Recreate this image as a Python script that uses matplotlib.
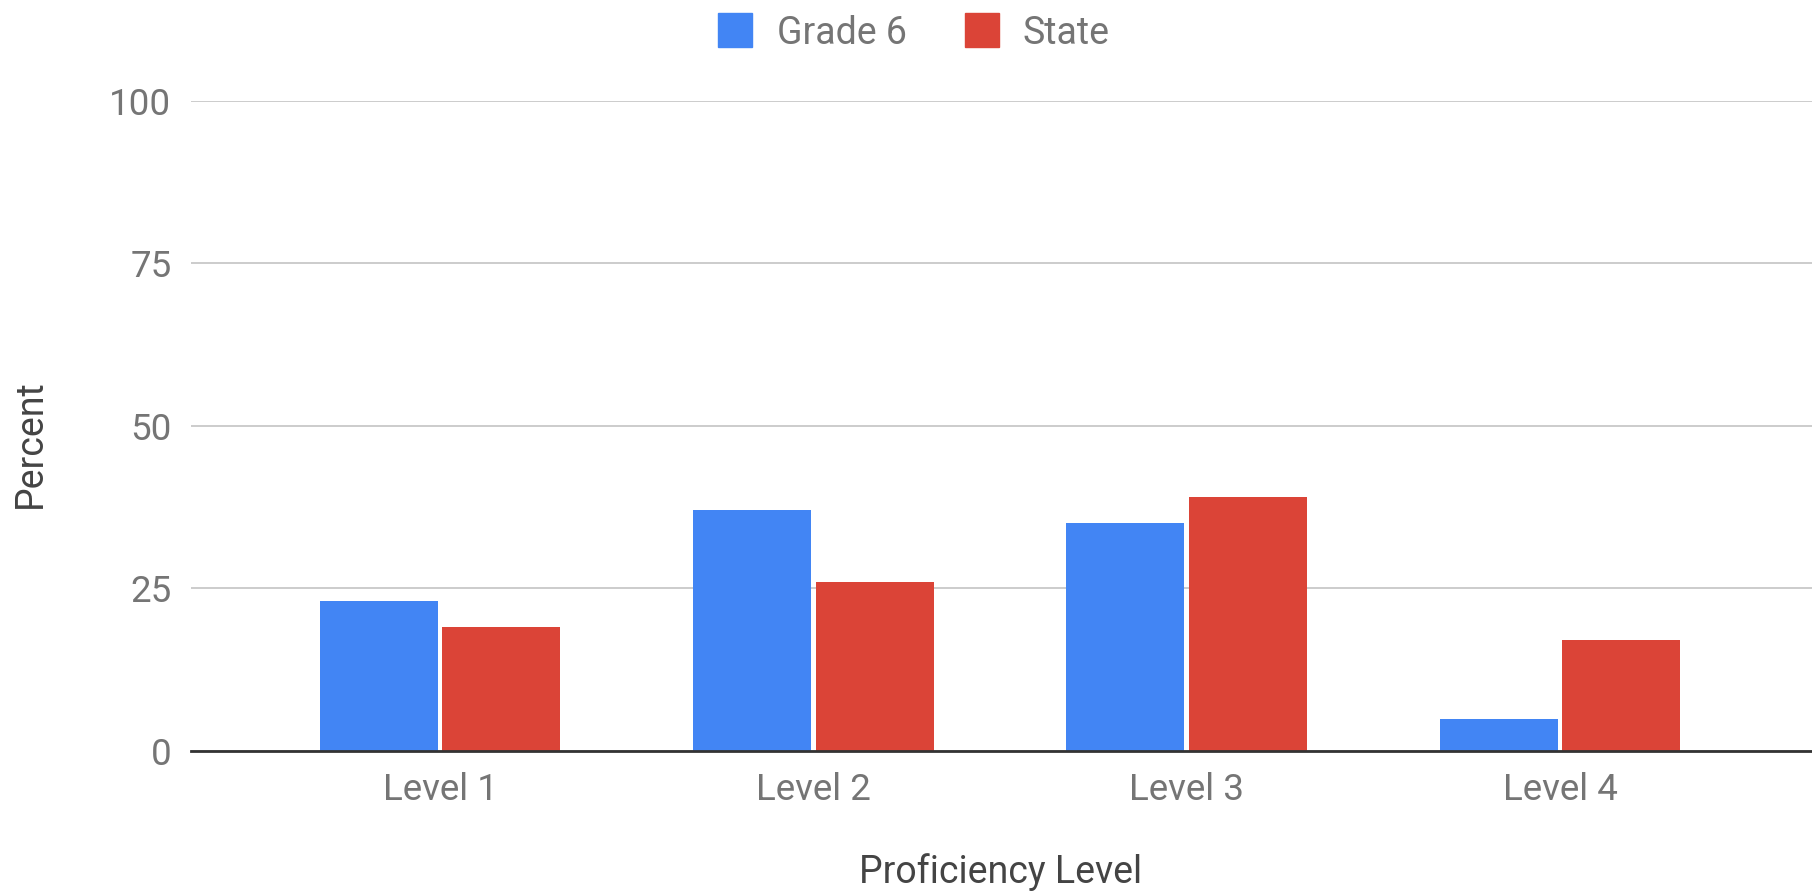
import numpy as np
import matplotlib
matplotlib.use("Agg")
import matplotlib.pyplot as plt
from matplotlib.lines import Line2D

plt.rcParams["font.family"] = ["Roboto", "DejaVu Sans"]

levels = ["Level 1", "Level 2", "Level 3", "Level 4"]
grade6 = [23, 37, 35, 5]
state = [19, 26, 39, 17]
series_names = ["Grade 6", "State"]
yticks = [0, 25, 50, 75, 100]

BLUE = "#4285F4"
RED = "#DB4437"
TICK_GREY = "#757575"
LABEL_DARK = "#444444"

fig = plt.figure(figsize=(18.12, 8.92), dpi=100, facecolor="white")
ax = fig.add_axes([0.1054, 0.158, 0.8946, 0.7293])

x = np.arange(len(levels))
w = 0.316
off = 0.164
ax.bar(x - off, grade6, width=w, color=BLUE, zorder=3)
ax.bar(x + off, state, width=w, color=RED, zorder=3)

ax.set_xlim(-0.667, 3.675)
ax.set_ylim(0, 100)
ax.set_yticks(yticks)
ax.set_xticks(x)
ax.set_xticklabels(levels)
ax.grid(axis="y", color="#cccccc", linewidth=1.4, zorder=0)
ax.axhline(0, color="#333333", linewidth=2.0, zorder=4, clip_on=False)
for s in ax.spines.values():
    s.set_visible(False)
ax.tick_params(axis="both", length=0, labelsize=26.5, labelcolor=TICK_GREY)
ax.tick_params(axis="y", pad=14)
ax.tick_params(axis="x", pad=15)

fig.text(0.552, 0.0224, "Proficiency Level", ha="center", va="center",
         fontsize=27, color=LABEL_DARK)
fig.text(0.017, 0.503, "Percent", ha="center", va="center", rotation=90,
         fontsize=27, color=LABEL_DARK)

handles = [Line2D([], [], marker="s", linestyle="none", markersize=25, color=c)
           for c in (BLUE, RED)]
fig.legend(handles, series_names, loc="center", bbox_to_anchor=(0.504, 0.963),
           ncol=2, frameon=False, fontsize=27, labelcolor=TICK_GREY,
           handletextpad=0.6, columnspacing=1.5, handlelength=1.0)

fig.savefig("out.png", dpi=100, facecolor="white")
